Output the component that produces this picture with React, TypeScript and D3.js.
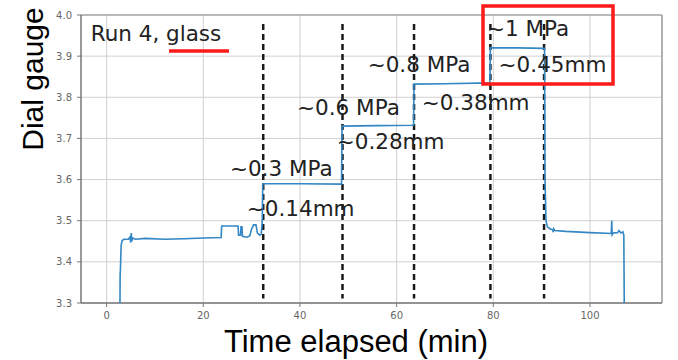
import React from 'react';
import * as d3 from 'd3';

// trace of the dial gauge reading: [minutes, value]
const trace: [number, number][] = [
    [2.75, 3.28], [2.8, 3.37], [2.85, 3.38], [2.9, 3.40], [3.0, 3.44], [3.2, 3.452], [3.6, 3.455],
    [4.5, 3.455], [4.8, 3.46], [5.0, 3.447], [5.1, 3.47], [5.2, 3.45], [5.4, 3.458], [6, 3.455],
    [8, 3.457], [12, 3.455], [16, 3.456], [20, 3.458], [23.7, 3.459], [23.8, 3.487], [27.2, 3.487],
    [27.3, 3.465], [27.7, 3.465], [27.8, 3.485], [28.0, 3.485], [28.1, 3.462], [29.0, 3.46],
    [29.6, 3.463], [30.0, 3.48], [30.4, 3.49], [30.9, 3.49], [31.2, 3.47], [31.7, 3.465],
    [32.0, 3.468], [32.2, 3.5], [32.3, 3.59], [40, 3.59], [48.6, 3.589], [48.7, 3.73],
    [56, 3.731], [63.5, 3.732], [63.6, 3.832], [70, 3.833], [79.3, 3.835], [79.4, 3.92],
    [85, 3.92], [90.6, 3.919], [90.7, 3.6], [90.9, 3.5], [91.2, 3.485], [91.8, 3.48],
    [92.3, 3.478], [92.4, 3.472], [92.5, 3.48], [92.7, 3.476], [95, 3.474], [100, 3.471],
    [104.4, 3.469], [104.5, 3.5], [104.6, 3.466], [104.8, 3.47], [105.7, 3.471], [106.0, 3.476],
    [106.4, 3.47], [106.8, 3.473], [107.0, 3.465], [107.1, 3.28],
];

// pressure change times (dashed lines)
const stepTimes = [32.4, 48.8, 63.6, 79.4, 90.5];

const xTicks = [0, 20, 40, 60, 80, 100];
const yTicks = [3.3, 3.4, 3.5, 3.6, 3.7, 3.8, 3.9, 4.0];

// annotations: text, minutes, value (baseline-left)
const notes: [string, number, number][] = [
    ['Run 4, glass', -3.3, 3.937],
    ['~0.3 MPa', 25.5, 3.609],
    ['~0.14mm', 29.0, 3.511],
    ['~0.6 MPa', 39.4, 3.757],
    ['~0.28mm', 47.6, 3.674],
    ['~0.8 MPa', 54.0, 3.861],
    ['~0.38mm', 65.2, 3.768],
    ['~1 MPa', 78.7, 3.948],
    ['~0.45mm', 81.1, 3.861],
];

const App: React.FC = () => {
    const width = 678;
    const height = 360;
    const margin = { top: 15, right: 16, bottom: 57, left: 81 };
    const innerW = width - margin.left - margin.right;
    const innerH = height - margin.top - margin.bottom;

    const x = d3.scaleLinear().domain([-5.3, 114.9]).range([0, innerW]);
    const y = d3.scaleLinear().domain([3.3, 4.0]).range([innerH, 0]);

    const line = d3
        .line<[number, number]>()
        .x(d => x(d[0]))
        .y(d => y(d[1]));

    const tickFont = 'DejaVu Sans, sans-serif';
    const noteFont = 'DejaVu Sans, sans-serif';

    return (
        <svg width={width} height={height} style={{ position: 'absolute', left: 0, top: 0 }}>
            <rect width={width} height={height} fill="#fff" />
            <defs>
                <clipPath id="plot">
                    <rect width={innerW} height={innerH} />
                </clipPath>
            </defs>
            <g transform={`translate(${margin.left},${margin.top})`}>
                {/* grid */}
                {xTicks.map(t => (
                    <line key={'gx' + t} x1={x(t)} x2={x(t)} y1={0} y2={innerH} stroke="#d0d0d0" strokeWidth={1} />
                ))}
                {yTicks.map(t => (
                    <line key={'gy' + t} x1={0} x2={innerW} y1={y(t)} y2={y(t)} stroke="#d0d0d0" strokeWidth={1} />
                ))}

                {/* frame */}
                <line x1={0} x2={innerW} y1={0} y2={0} stroke="#aaa" strokeWidth={1.5} />
                <line x1={innerW} x2={innerW} y1={0} y2={innerH} stroke="#999" strokeWidth={1.5} />
                <line x1={0} x2={0} y1={0} y2={innerH} stroke="#777" strokeWidth={1.5} />
                <line x1={0} x2={innerW} y1={innerH} y2={innerH} stroke="#777" strokeWidth={1.5} />

                {/* ticks */}
                {xTicks.map(t => (
                    <g key={'tx' + t} transform={`translate(${x(t)},${innerH})`}>
                        <line y1={0} y2={4} stroke="#777" />
                        <text y={16} textAnchor="middle" fontSize={10} fill="#666" fontFamily={tickFont}>
                            {t}
                        </text>
                    </g>
                ))}
                {yTicks.map(t => (
                    <g key={'ty' + t} transform={`translate(0,${y(t)})`}>
                        <line x1={-4} x2={0} stroke="#777" />
                        <text x={-9} dy="0.35em" textAnchor="end" fontSize={10} fill="#666" fontFamily={tickFont}>
                            {t.toFixed(1)}
                        </text>
                    </g>
                ))}

                {/* dashed step markers */}
                {stepTimes.map(t => (
                    <line
                        key={'s' + t}
                        x1={x(t)}
                        x2={x(t)}
                        y1={y(3.978)}
                        y2={y(3.311)}
                        stroke="#1a1a1a"
                        strokeWidth={2.5}
                        strokeDasharray="6,4"
                    />
                ))}

                {/* trace */}
                <path d={line(trace) ?? ''} fill="none" stroke="#3387c4" strokeWidth={1.6} clipPath="url(#plot)" />

                {/* annotations */}
                {notes.map(([label, t, v]) => (
                    <text key={label} x={x(t)} y={y(v)} fontSize={21.5} fill="#222" fontFamily={noteFont}>
                        {label}
                    </text>
                ))}
            </g>

            {/* red highlights */}
            <line x1={169} x2={229} y1={51} y2={51} stroke="#ff1a1a" strokeWidth={3.5} />
            <rect x={483} y={6} width={130} height={78} fill="none" stroke="#ff1a1a" strokeWidth={3.5} />

            {/* axis titles */}
            <text
                transform="translate(43,79) rotate(-90)"
                textAnchor="middle"
                fontSize={30}
                fill="#000"
                fontFamily="Liberation Sans, Arial, sans-serif"
            >
                Dial gauge
            </text>
            <text x={356} y={352} textAnchor="middle" fontSize={31} fill="#000" fontFamily="Liberation Sans, Arial, sans-serif">
                Time elapsed (min)
            </text>
        </svg>
    );
};

export default App;
